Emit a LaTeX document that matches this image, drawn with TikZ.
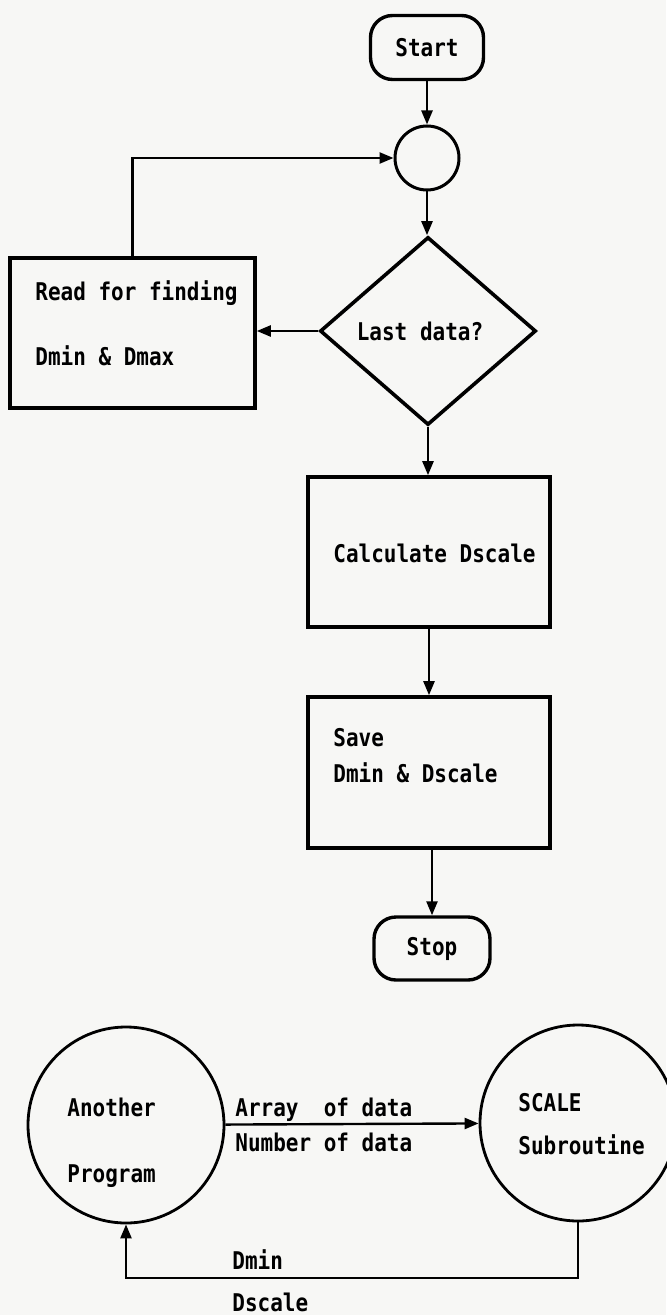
\documentclass[tikz,border=0pt]{standalone}
\usepackage{fontspec}
\newfontfamily\diagfont{DejaVu Sans Mono}[FakeStretch=0.86]
\usetikzlibrary{arrows.meta,shapes.geometric}
\definecolor{paper}{RGB}{247,247,245}
\begin{document}
\begin{tikzpicture}[x=0.5pt,y=-0.5pt,
  every node/.style={font=\diagfont\bfseries\fontsize{12.2}{14}\selectfont,inner sep=0pt},
  txt/.style={anchor=base west},
  procbox/.style={draw,line width=1.8pt},
  term/.style={draw,line width=1.7pt,rounded corners=11pt,minimum height=32pt},
  conn/.style={line width=1.2pt},
  arr/.style={conn,-{Triangle[length=7pt,width=5.5pt]}},
  bigcirc/.style={draw,circle,line width=1.4pt,minimum size=98pt}]
\fill[paper] (0,0) rectangle (666,1315);
\useasboundingbox (0,0) rectangle (666,1315);

% top flowchart
\node[term,minimum width=56.5pt] (start) at (427,47.5) {Start};
\node[draw,circle,line width=1.5pt,minimum size=32pt] (join) at (427,158) {};
\node[draw,diamond,line width=1.8pt,minimum width=108pt,minimum height=94pt] (dec) at (428,331) {};
\node (dectxt) at (420,331) {Last data?};
\node[procbox,minimum width=122.5pt,minimum height=75pt] (read) at (132.5,333) {};
\node[txt] (r1) at (35,301) {Read for finding};
\node[txt] (r2) at (35,366) {Dmin \& Dmax};
\node[procbox,minimum width=121pt,minimum height=75pt] (calc) at (429,552) {};
\node[txt] (c1) at (333,562) {Calculate Dscale};
\node[procbox,minimum width=121pt,minimum height=75.5pt] (save) at (429,772.5) {};
\node[txt] (s1) at (333,746) {Save};
\node[txt] (s2) at (333,782) {Dmin \& Dscale};
\node[term,minimum width=58pt,minimum height=31.5pt] (stop) at (432,948.5) {Stop};

\draw[arr] (start) -- (join);
\draw[arr] (join.south) -- (join.south |- dec.north);
\draw[arr] (dec.west) -- (dec.west -| read.east);
\draw[arr] (read.north) |- (join.west);
\draw[arr] (dec.south) -- (dec.south |- calc.north);
\draw[arr] (calc.south) -- (save.north);
\draw[arr] (stop.north |- save.south) -- (stop.north);

% bottom data flow
\node[bigcirc] (prog) at (126,1125) {};
\node[bigcirc] (sub) at (578,1123) {};
\node[txt] (p1) at (67,1116) {Another};
\node[txt] (p2) at (67,1182) {Program};
\node[txt] (q1) at (518,1111) {SCALE};
\node[txt] (q2) at (518,1154) {Subroutine};
\node[txt] (a1) at (235,1116) {Array\ \ of data};
\node[txt] (a2) at (235,1151) {Number of data};
\node[txt] (d1) at (232,1269) {Dmin};
\node[txt] (d2) at (232,1311) {Dscale};
\coordinate (ret) at (0,1278);

\draw[arr] (prog) -- (sub);
\draw[arr] (sub.south) -- (sub.south |- ret) -| (prog.south);
\end{tikzpicture}
\end{document}
